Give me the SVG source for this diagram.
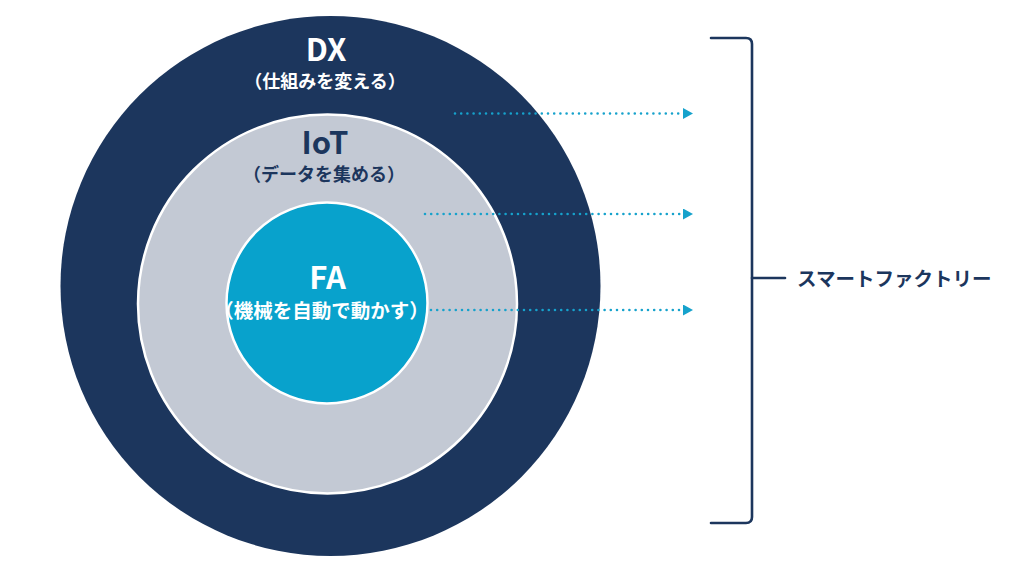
<svg xmlns="http://www.w3.org/2000/svg" width="1024" height="576" viewBox="0 0 1024 576">
<style>
.ttl{font-family:"Noto Sans CJK JP","Noto Sans",sans-serif;font-weight:700;text-anchor:middle}
.sub{font-family:"Noto Sans CJK JP",sans-serif;font-weight:700;text-anchor:middle}
.w{fill:#ffffff}
.n{fill:#1c365d}
.dot{fill:none;stroke:#16a2cc;stroke-width:2.6;stroke-linecap:round;stroke-dasharray:0 6.2}
.br{fill:none;stroke:#1c365d;stroke-width:2.6;stroke-linecap:round;stroke-linejoin:round}
</style>
<defs>
<marker id="ah" viewBox="0 0 10 11" refX="0" refY="5.5" markerWidth="10" markerHeight="11" markerUnits="userSpaceOnUse" orient="auto">
<path d="M0,0 L10,5.5 L0,11 Z" fill="#16a2cc"/>
</marker>
</defs>
<rect width="1024" height="576" fill="#ffffff"/>
<g id="dx">
<circle cx="330.5" cy="286" r="270" fill="#1c365d"/>
<text class="ttl w" x="326" y="61" font-size="31">DX</text>
<text class="sub w" x="325" y="87.5" font-size="18">（仕組みを変える）</text>
</g>
<g id="iot">
<circle cx="327.5" cy="304" r="189.5" fill="#c3c9d4" stroke="#ffffff" stroke-width="2.5"/>
<text class="ttl n" x="325" y="154" font-size="31">IoT</text>
<text class="sub n" x="324" y="180.5" font-size="18">（データを集める）</text>
</g>
<g id="fa">
<circle cx="327" cy="303" r="100.5" fill="#08a2cc" stroke="#ffffff" stroke-width="2.5"/>
<text class="ttl w" x="327.5" y="289" font-size="31">FA</text>
<text class="sub w" x="321.5" y="318" font-size="19.5">（機械を自動で動かす）</text>
</g>
<g id="connectors">
<path class="dot" d="M455,113.5 H683" marker-end="url(#ah)"/>
<path class="dot" d="M425,214 H683" marker-end="url(#ah)"/>
<path class="dot" d="M431,310 H683" marker-end="url(#ah)"/>
<path class="br" d="M711,38 H746 Q752,38 752,44 V517 Q752,523 746,523 H711"/>
<path class="br" d="M752,278 H785"/>
</g>
<g id="smart-factory">
<text x="797" y="286" font-family="'Noto Sans CJK JP',sans-serif" font-weight="700" font-size="19.5" fill="#1c365d">スマートファクトリー</text>
</g>
</svg>
